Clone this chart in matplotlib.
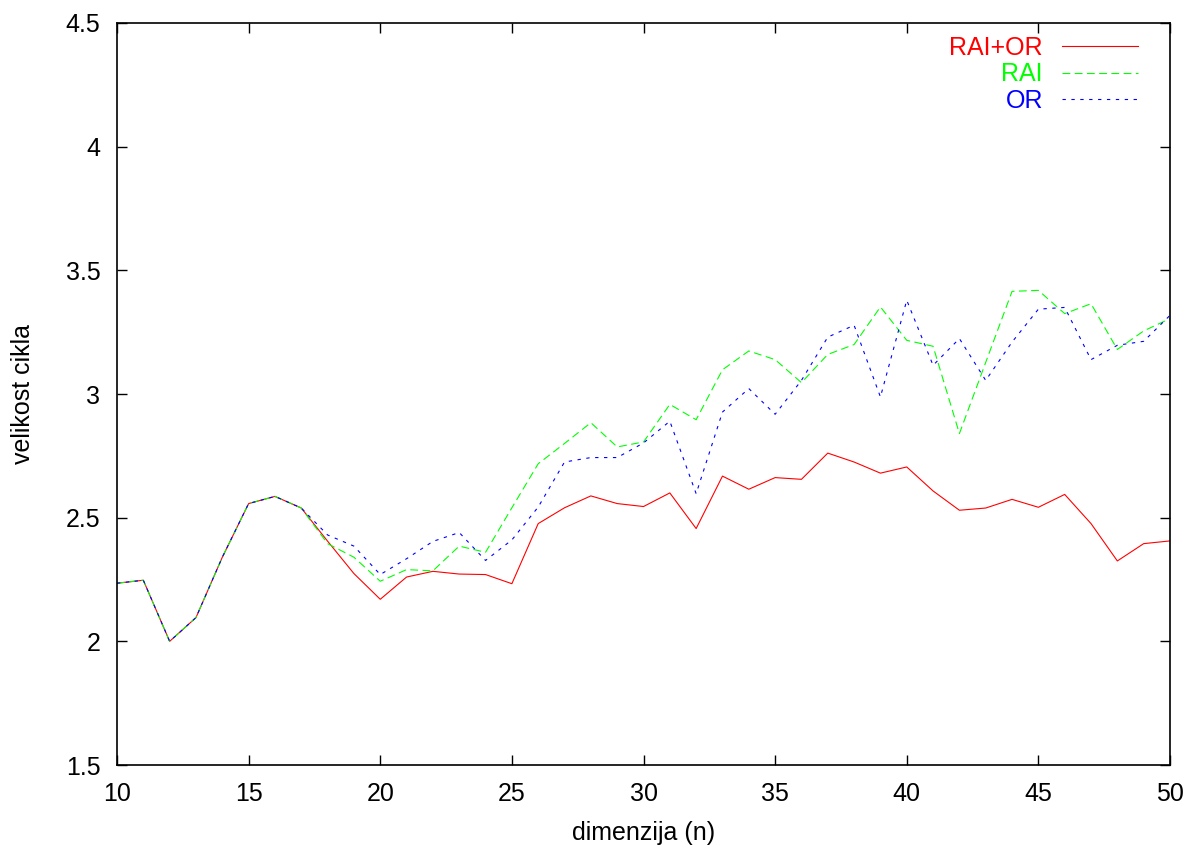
import matplotlib
matplotlib.use("Agg")
import matplotlib.pyplot as plt

plt.rcParams['font.family'] = ['Liberation Sans', 'DejaVu Sans']

n = list(range(10, 51))

rai_or = [2.235, 2.247, 2.0, 2.096, 2.34, 2.557, 2.586, 2.539, 2.405, 2.274,
          2.17, 2.26, 2.283, 2.272, 2.27, 2.233, 2.476, 2.54, 2.588, 2.557,
          2.545, 2.60, 2.456, 2.668, 2.615, 2.662, 2.655, 2.761, 2.725, 2.68,
          2.705, 2.608, 2.53, 2.539, 2.574, 2.542, 2.594, 2.476, 2.325, 2.395,
          2.406]

rai = [2.235, 2.247, 2.0, 2.096, 2.34, 2.557, 2.586, 2.539, 2.395, 2.34,
       2.243, 2.29, 2.285, 2.385, 2.36, 2.54, 2.718, 2.80, 2.884, 2.786,
       2.806, 2.958, 2.896, 3.098, 3.174, 3.139, 3.046, 3.16, 3.20, 3.352,
       3.217, 3.193, 2.84, 3.128, 3.415, 3.419, 3.325, 3.365, 3.18, 3.255,
       3.305]

orr = [2.235, 2.247, 2.0, 2.096, 2.34, 2.557, 2.586, 2.539, 2.43, 2.385,
       2.27, 2.334, 2.404, 2.44, 2.327, 2.41, 2.543, 2.725, 2.743, 2.743,
       2.802, 2.89, 2.597, 2.927, 3.022, 2.918, 3.055, 3.23, 3.278, 2.988,
       3.379, 3.116, 3.224, 3.055, 3.21, 3.343, 3.35, 3.139, 3.197, 3.213,
       3.318]

xticks = [10, 15, 20, 25, 30, 35, 40, 45, 50]
yticks = [1.5, 2, 2.5, 3, 3.5, 4, 4.5]
ytick_labels = ['1.5', '2', '2.5', '3', '3.5', '4', '4.5']

FS = 18

fig = plt.figure(figsize=(11.9, 8.46), dpi=100)
ax = fig.add_axes([117/1190, 81/846, (1170-117)/1190, (765-23)/846])

lw = 0.8
ax.plot(n, rai_or, color='#ff0000', lw=lw, linestyle='-', label='RAI+OR')
ax.plot(n, rai, color='#00ff00', lw=lw, linestyle=(0, (7, 4)), label='RAI')
ax.plot(n, orr, color='#0000ff', lw=lw, linestyle=(0, (3, 5)), label='OR')

ax.set_xlim(10, 50)
ax.set_ylim(1.5, 4.5)
ax.set_xticks(xticks)
ax.set_yticks(yticks)
ax.set_yticklabels(ytick_labels)
ax.tick_params(direction='in', length=7, width=1, top=True, right=True,
               labelsize=FS, pad=12, colors='black')
for s in ax.spines.values():
    s.set_linewidth(1.2)

ax.set_xlabel('dimenzija (n)', fontsize=FS, labelpad=11)
ax.set_ylabel('velikost cikla', fontsize=FS, labelpad=22)

leg = ax.legend(loc='upper right', bbox_to_anchor=(0.9696, 0.9825),
                frameon=False, markerfirst=False,
                alignment='right', fontsize=FS, handlelength=3.04,
                handletextpad=0.76, labelspacing=0.1, borderaxespad=0,
                borderpad=0, labelcolor='linecolor')

fig.savefig('out.png', dpi=100)
